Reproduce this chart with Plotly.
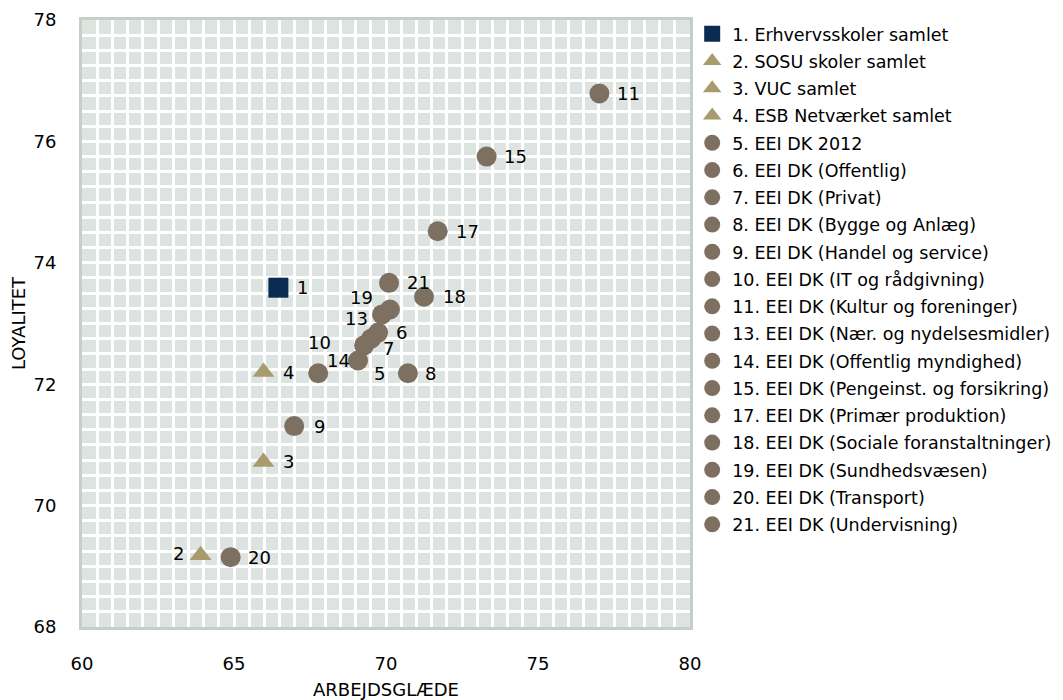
import plotly.graph_objects as go

# ---- data ----
labels = ["1", "2", "3", "4", "5", "6", "7", "8", "9", "10", "11",
          "13", "14", "15", "17", "18", "19", "20", "21"]
names = [
    "1. Erhvervsskoler samlet",
    "2. SOSU skoler samlet",
    "3. VUC samlet",
    "4. ESB Netværket samlet",
    "5. EEI DK 2012",
    "6. EEI DK (Offentlig)",
    "7. EEI DK (Privat)",
    "8. EEI DK (Bygge og Anlæg)",
    "9. EEI DK (Handel og service)",
    "10. EEI DK (IT og rådgivning)",
    "11. EEI DK (Kultur og foreninger)",
    "13. EEI DK (Nær. og nydelsesmidler)",
    "14. EEI DK (Offentlig myndighed)",
    "15. EEI DK (Pengeinst. og forsikring)",
    "17. EEI DK (Primær produktion)",
    "18. EEI DK (Sociale foranstaltninger)",
    "19. EEI DK (Sundhedsvæsen)",
    "20. EEI DK (Transport)",
    "21. EEI DK (Undervisning)",
]
arbejdsglaede = [66.46, 63.90, 65.97, 65.97, 69.08, 69.74, 69.51, 70.72, 66.98, 69.28, 77.02,
                 69.87, 67.77, 73.31, 71.70, 71.25, 70.13, 64.89, 70.10]
loyalitet = [73.59, 69.18, 70.72, 72.20, 72.39, 72.85, 72.75, 72.18, 71.31, 72.64, 76.79,
             73.15, 72.18, 75.75, 74.52, 73.44, 73.23, 69.15, 73.67]
groups = ["skole", "samlet", "samlet", "samlet"] + ["eei"] * 15

# ---- styles ----
style = {
    "skole": dict(symbol="square", color="#0c2b52", size=20),
    "samlet": dict(symbol="triangle-up", color="#a89b6d", size=19),
    "eei": dict(symbol="circle", color="#7e7061", size=20),
}
# label offsets in px (dx right, dy down)
label_offset = {
    "1": (24, 0), "2": (-22, -2), "3": (25, 0), "4": (25, 0), "5": (21, 13),
    "6": (23, 0), "7": (17, 10), "8": (23, 0), "9": (25, 0), "10": (-45, -3),
    "11": (29, 0), "13": (-26, 4), "14": (20, -13), "15": (29, 0), "17": (30, 0),
    "18": (30, 0), "19": (-28, -12), "20": (29, 0), "21": (29, 0),
}

FONT = "DejaVu Sans"
FS = 18
LFS = 17.5

fig = go.Figure()
for i, (lab, nm, xv, yv, g) in enumerate(zip(labels, names, arbejdsglaede, loyalitet, groups)):
    st = style[g]
    fig.add_trace(go.Scatter(
        x=[xv], y=[yv], mode="markers", name=nm, legendgroup=nm,
        marker=dict(symbol=st["symbol"], color=st["color"], size=st["size"], line=dict(width=0)),
        hoverinfo="name+x+y",
    ))
    dx, dy = label_offset[lab]
    fig.add_annotation(x=xv, y=yv, text=lab, showarrow=False, xshift=dx, yshift=-dy,
                       font=dict(family=FONT, size=FS, color="#000000"))

# page body has an 8px margin: compensate so the plot lands where intended
fig.update_layout(
    width=1055, height=692,
    margin=dict(l=74, r=373, t=12, b=73, autoexpand=False),
    paper_bgcolor="#ffffff",
    plot_bgcolor="#dde3e0",
    font=dict(family=FONT, size=FS, color="#000000"),
    showlegend=True,
    legend=dict(
        x=1.0036, xanchor="left", y=0.1384, yanchor="bottom",
        font=dict(family=FONT, size=LFS, color="#000000"),
        traceorder="grouped", tracegroupgap=1.5, itemwidth=30,
        bgcolor="rgba(0,0,0,0)", borderwidth=0,
    ),
    xaxis=dict(
        range=[60, 80], dtick=0.5, showgrid=True, gridcolor="#ffffff", gridwidth=3,
        tickmode="array", tickvals=[60, 65, 70, 75, 80], ticktext=["60", "65", "70", "75", "80"],
        zeroline=False, showline=True, linecolor="#c4cfc6", linewidth=3, mirror=True,
        ticks="", ticklabelstandoff=18, automargin=False,
        title=dict(text="ARBEJDSGLÆDE", standoff=11, font=dict(family=FONT, size=FS)),
    ),
    yaxis=dict(
        range=[68, 78], showgrid=True, gridcolor="#ffffff", gridwidth=3,
        zeroline=False, showline=True, linecolor="#c4cfc6", linewidth=3, mirror=True,
        ticks="", ticklabelstandoff=19, automargin=False,
        tickvals=[68, 70, 72, 74, 76, 78],
        title=dict(text="LOYALITET", standoff=6, font=dict(family=FONT, size=FS)),
    ),
)
# minor grid to get the fine cell pattern
fig.update_xaxes(minor=dict(dtick=0.5, showgrid=True, gridcolor="#ffffff", gridwidth=3))
fig.update_yaxes(minor=dict(dtick=0.25, showgrid=True, gridcolor="#ffffff", gridwidth=3))

fig.write_html("out.html")
